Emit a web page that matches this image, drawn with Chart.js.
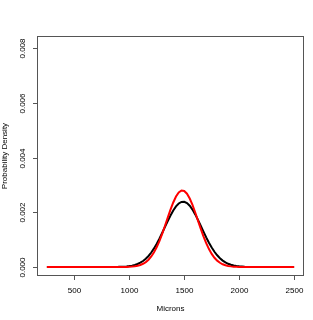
<!DOCTYPE html>
<html>
<head>
<meta charset="utf-8">
<script src="https://cdn.jsdelivr.net/npm/chart.js@4.4.1/dist/chart.umd.min.js"></script>
<style>
html,body{margin:0;padding:0;background:#fff;}
#wrap{width:313px;height:320px;position:relative;}
</style>
</head>
<body>
<div id="wrap"><canvas id="c" width="313" height="320"></canvas></div>
<script>
// Microns (x) grid
const microns = [250,500,750,900,925,950,975,1000,1025,1050,1075,1100,1125,1150,1175,1200,1225,1250,1275,1300,1325,1350,1375,1400,1425,1450,1475,1500,1525,1550,1575,1600,1625,1650,1675,1700,1725,1750,1775,1800,1825,1850,1875,1900,1925,1950,1975,2000,2050,2100,2250,2500];
// Black curve density values
const blackDensity = [0,0,0.0000001,0.0000047,0.0000078,0.0000128,0.0000206,0.0000323,0.0000495,0.0000743,0.000109,0.000156,0.000219,0.000301,0.000403,0.000529,0.000679,0.000851,0.001043,0.001251,0.001467,0.001682,0.001885,0.002067,0.002216,0.002322,0.002380,0.002386,0.002338,0.002241,0.002100,0.001924,0.001724,0.001510,0.001294,0.001084,0.000888,0.000711,0.000557,0.000427,0.000320,0.000234,0.000168,0.000117,0.0000804,0.0000538,0.0000352,0.0000226,0.0000087,0.000003,0,0];
// Red curve density values
const redDensity = [0,0,0,0.0000002,0.0000004,0.0000009,0.0000033,0.0000086,0.0000154,0.0000268,0.0000451,0.0000737,0.000117,0.000179,0.000266,0.000384,0.000537,0.000729,0.000958,0.001220,0.001508,0.001806,0.002097,0.002360,0.002576,0.002726,0.002796,0.002780,0.002680,0.002505,0.002270,0.001994,0.001698,0.001402,0.001123,0.000871,0.000655,0.000478,0.000338,0.000232,0.000154,0.0000992,0.0000619,0.0000375,0.0000220,0.0000125,0.0000069,0.0000037,0.000001,0.0000002,0,0];
// Tick labels
const xTicks = [500,1000,1500,2000,2500];
const yTicks = [0,0.002,0.004,0.006,0.008];
const xTitle = "Microns";
const yTitle = "Probability Density";

const toPts = (ys) => microns.map((x,i)=>({x:x,y:ys[i]}));

const rAxes = {
  id:'rAxes',
  afterDraw(chart){
    const ctx = chart.ctx, a = chart.chartArea;
    const xs = chart.scales.x, ys = chart.scales.y;
    ctx.save();
    ctx.strokeStyle = '#555';
    ctx.lineWidth = 1;
    ctx.strokeRect(Math.round(a.left)+0.5, Math.round(a.top)+0.5, Math.round(a.right-a.left)-1, Math.round(a.bottom-a.top)-1);
    ctx.fillStyle = '#000';
    ctx.font = '8px "Liberation Sans", Arial, sans-serif';
    // x ticks
    ctx.textAlign = 'center'; ctx.textBaseline = 'middle';
    xTicks.forEach(v=>{
      const px = Math.round(xs.getPixelForValue(v))+0.5;
      ctx.beginPath(); ctx.moveTo(px, a.bottom); ctx.lineTo(px, a.bottom+4); ctx.stroke();
      ctx.fillText(String(v), px, 291);
    });
    // y ticks
    yTicks.forEach(v=>{
      const py = Math.round(ys.getPixelForValue(v))+0.5;
      ctx.beginPath(); ctx.moveTo(a.left, py); ctx.lineTo(a.left-4, py); ctx.stroke();
      ctx.save();
      ctx.translate(23, py);
      ctx.rotate(-Math.PI/2);
      ctx.fillText(v.toFixed(3), 0, 0);
      ctx.restore();
    });
    ctx.fillText(xTitle, (a.left+a.right)/2, 309);
    ctx.save();
    ctx.translate(5, (a.top+a.bottom)/2);
    ctx.rotate(-Math.PI/2);
    ctx.fillText(yTitle, 0, 0);
    ctx.restore();
    ctx.restore();
  }
};

new Chart(document.getElementById('c'), {
  type:'line',
  data:{
    datasets:[
      {label:'red', data:toPts(redDensity), borderColor:'#ff0000', borderWidth:2, pointRadius:0, tension:0, fill:false, order:0},
      {label:'black', data:toPts(blackDensity), borderColor:'#000000', borderWidth:2, pointRadius:0, tension:0, fill:false, order:1}
    ]
  },
  options:{
    responsive:false,
    animation:false,
    layout:{padding:{left:37,right:9,top:36,bottom:44}},
    plugins:{legend:{display:false},tooltip:{enabled:false}},
    scales:{
      x:{type:'linear',min:160,max:2590,display:false},
      y:{type:'linear',min:-0.00033,max:0.00845,display:false}
    }
  },
  plugins:[rAxes]
});
</script>
</body>
</html>
